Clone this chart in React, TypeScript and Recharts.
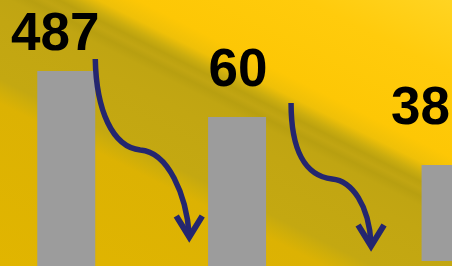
import React from "react";
import { BarChart, Bar, XAxis, YAxis } from "recharts";

// ---- data ----
const categories = ["Step 1", "Step 2", "Step 3"];
const values = [487, 60, 38];
// bar extents (abstract height units, 0 = bottom of picture)
const barTops = [195, 149, 101];
const barBases = [0, 0, 5];

// ---- layout (not data) ----
const SLOT_OF = [0, 4, 9];
const SLOT_COUNT = 10;
const BAR_W = 58;
const BAR_FILL = "#9c9c9c";
const ARROW_COLOR = "#24266f";
const LABEL_OFFSET: Record<string, [number, number]> = {
  "Step 1": [-11, -21],
  "Step 2": [1, -31],
  "Step 3": [-30, -41],
};
// arrows drawn relative to the top-right corner of the bar they start from
const ARROWS: Record<string, { d: string; head: string }> = {
  "Step 1": {
    d: "M0,-12 C1,39 17,76 45,79 C73,81 91,124 94,164",
    head: "M81,145 L94,166 L107,145",
  },
  "Step 2": {
    d: "M25,-14 C25,33 39,59 66,62 C86,64 103,88 105,127",
    head: "M92,108 L105,129 L118,108",
  },
};

const data = Array.from({ length: SLOT_COUNT }, (_, i) => {
  const k = SLOT_OF.indexOf(i);
  if (k < 0) return { key: `gap-${i}`, name: "", value: null as number | null, range: [0, 0] };
  return {
    key: categories[k],
    name: categories[k],
    value: values[k] as number | null,
    range: [barBases[k], barTops[k]],
  };
});

const BG =
  "linear-gradient(26.6deg, #e1b500 0%, #dcb203 33%, #d0ae09 35.5%, #c4a811 38%, #c2a612 50%, #c0a512 55%, #b89f10 57%, #c1a512 58.5%, #bba10f 60%, #caac0f 61.5%, #efc008 64%, #fdc705 68%, #ffcb0c 85%, #ffd422 100%)";

function BarShape(props: any) {
  const { x, y, width, height, payload } = props;
  if (!payload || !payload.name) return <g />;
  const cx = x + width / 2;
  const left = cx - BAR_W / 2;
  const right = cx + BAR_W / 2;
  const top = height < 0 ? y + height : y;
  const h = Math.abs(height);
  const arrow = ARROWS[payload.name];
  const off = LABEL_OFFSET[payload.name] || [0, -20];
  return (
    <g>
      <rect x={left} y={top} width={BAR_W} height={h} fill={BAR_FILL} />
      {arrow && (
        <g transform={`translate(${right},${top})`}>
          <path d={arrow.d} fill="none" stroke={ARROW_COLOR} strokeWidth={5.5} />
          <path
            d={arrow.head}
            fill="none"
            stroke={ARROW_COLOR}
            strokeWidth={6}
            strokeLinejoin="miter"
            strokeMiterlimit={10}
          />
        </g>
      )}
      <text
        x={cx + off[0]}
        y={top + off[1]}
        textAnchor="middle"
        fontFamily="'Liberation Sans', Arial, sans-serif"
        fontWeight={700}
        fontSize={53}
        fill="#000000"
      >
        {payload.value}
      </text>
    </g>
  );
}

export default function App() {
  return (
    <div
      style={{
        position: "absolute",
        left: 0,
        top: 0,
        width: 452,
        height: 266,
        overflow: "hidden",
        background: BG,
      }}
    >
      <BarChart
        width={472}
        height={266}
        data={data}
        margin={{ top: 0, right: 0, bottom: 0, left: 45 }}
      >
        <XAxis dataKey="key" hide />
        <YAxis hide type="number" domain={[0, 266]} allowDataOverflow />
        <Bar dataKey="range" shape={BarShape} isAnimationActive={false} />
      </BarChart>
    </div>
  );
}
